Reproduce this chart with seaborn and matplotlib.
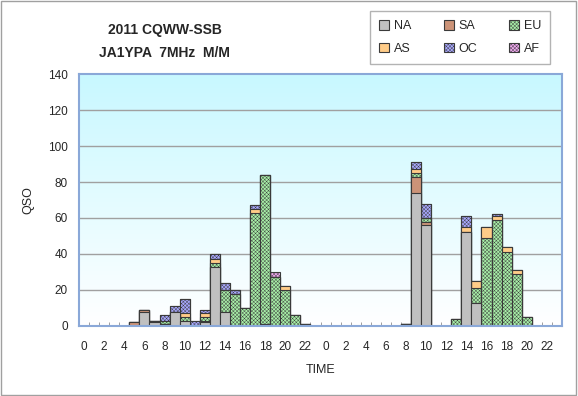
import numpy as np
import pandas as pd
import matplotlib
matplotlib.use('Agg')
import matplotlib.pyplot as plt
import seaborn as sns
from matplotlib.patches import Patch, Rectangle
from matplotlib.colors import LinearSegmentedColormap

# QSO counts per hour, two contest days (0-23, 0-23)
hours = list(range(24)) + list(range(24))
na = [0, 0, 0, 0, 0, 0, 8, 2, 1, 8, 3, 0, 2, 33, 8, 0, 0, 0, 0, 0, 0, 0, 0, 0,
      0, 0, 0, 0, 0, 0, 0, 0, 1, 74, 56, 0, 0, 0, 52, 13, 0, 0, 0, 0, 0, 0, 0, 0]
sa = [0, 0, 0, 0, 0, 2, 1, 1, 0, 0, 0, 0, 1, 0, 0, 0, 0, 0, 1, 0, 0, 0, 0, 0,
      0, 0, 0, 0, 0, 0, 0, 0, 0, 9, 2, 0, 0, 0, 0, 0, 0, 0, 0, 0, 0, 0, 0, 0]
eu = [0, 0, 0, 0, 0, 0, 0, 0, 2, 0, 2, 0, 2, 2, 12, 18, 10, 63, 83, 27, 20, 6, 1, 0,
      0, 0, 0, 0, 0, 0, 0, 0, 0, 2, 2, 0, 0, 4, 0, 8, 49, 59, 41, 29, 5, 0, 0, 0]
as_ = [0, 0, 0, 0, 0, 0, 0, 0, 0, 0, 2, 0, 2, 2, 0, 0, 0, 2, 0, 0, 2, 0, 0, 0,
       0, 0, 0, 0, 0, 0, 0, 0, 0, 2, 0, 0, 0, 0, 3, 4, 6, 2, 3, 2, 0, 0, 0, 0]
oc = [0, 0, 0, 0, 0, 0, 0, 0, 3, 3, 8, 3, 2, 3, 4, 2, 0, 2, 0, 0, 0, 0, 0, 0,
      0, 0, 0, 0, 0, 0, 0, 0, 0, 4, 8, 0, 0, 0, 6, 0, 0, 1, 0, 0, 0, 0, 0, 0]
af = [0, 0, 0, 0, 0, 0, 0, 0, 0, 0, 0, 0, 0, 0, 0, 0, 0, 0, 0, 3, 0, 0, 0, 0,
      0, 0, 0, 0, 0, 0, 0, 0, 0, 0, 0, 0, 0, 0, 0, 0, 0, 0, 0, 0, 0, 0, 0, 0]

names = ['NA', 'SA', 'EU', 'AS', 'OC', 'AF']
colors = ['#c0c0c0', '#cc9378', '#a8f0a8', '#ffcc88', '#a8a8ff', '#f0a8f0']
hatches = ['', '', 'xxxxxxxxx', '', 'xxxxxxxxx', 'xxxxxxxxx']

df = pd.DataFrame({'slot': range(48), 'NA': na, 'SA': sa, 'EU': eu,
                   'AS': as_, 'OC': oc, 'AF': af})
cum = df[names].cumsum(axis=1)

sns.set_style('white')
plt.rcParams['font.family'] = ['Liberation Sans', 'DejaVu Sans']
plt.rcParams['hatch.linewidth'] = 0.3

fig = plt.figure(figsize=(5.78, 3.96), dpi=100)
ax = fig.add_axes([0.1367, 0.1768, 0.8356, 0.6363])

# gradient background (light cyan at top to white at bottom)
cmap = LinearSegmentedColormap.from_list('bg', ['#ffffff', '#c8f8ff'])
ax.imshow(np.linspace(0, 1, 256).reshape(-1, 1), cmap=cmap, aspect='auto',
          extent=[-0.5, 47.5, 0, 140], origin='lower', zorder=0)

for y in range(20, 140, 20):
    ax.axhline(y, color='#a0a0a0', lw=1, zorder=1)

# stacked bars: draw cumulative totals from top layer down
for i in range(len(names) - 1, -1, -1):
    d = pd.DataFrame({'slot': df['slot'], 'val': cum[names[i]]})
    sns.barplot(data=d, x='slot', y='val', color=colors[i], width=1.0,
                edgecolor='#3a3a3a', linewidth=0.8, hatch=hatches[i],
                saturation=1, ax=ax, zorder=2)

ax.set_xlim(-0.5, 47.5)
ax.set_ylim(0, 140)
ax.set_yticks(range(0, 141, 20))
ax.set_xticks(range(0, 48, 2))
ax.set_xticklabels([str(h) for h in hours[::2]])
ax.set_xticks(np.arange(-0.5, 48, 1), minor=True)
ax.tick_params(axis='x', which='major', length=0, labelsize=8.5, pad=11)
ax.tick_params(axis='x', which='minor', direction='in', length=3,
               color='#909090', bottom=True)
ax.tick_params(axis='y', length=0, labelsize=8.5, pad=8)
for s in ax.spines.values():
    s.set_color('#8aa8d8')
    s.set_linewidth(1.5)
ax.set_xlabel('TIME', fontsize=9, labelpad=8)
ax.set_ylabel('QSO', fontsize=9, labelpad=10)

fig.text(0.285, 0.925, '2011 CQWW-SSB', ha='center', va='center',
         fontsize=10, fontweight='bold')
fig.text(0.285, 0.865, 'JA1YPA  7MHz  M/M', ha='center', va='center',
         fontsize=10, fontweight='bold')

# legend rows: NA SA EU / AS OC AF (legend fills column-wise)
order = [0, 3, 1, 4, 2, 5]
handles = [Patch(facecolor=colors[i], edgecolor='#3a3a3a', hatch=hatches[i],
                 linewidth=0.8, label=names[i]) for i in order]
leg = fig.legend(handles=handles, ncol=3, loc='upper left',
                 bbox_to_anchor=(0.64, 0.973), frameon=True, fancybox=False,
                 fontsize=9, handlelength=0.8, handleheight=0.8,
                 handletextpad=0.35, columnspacing=2.6, labelspacing=0.85,
                 borderpad=0.75, borderaxespad=0)
leg.get_frame().set_edgecolor('#a0a0a0')
leg.get_frame().set_linewidth(1)

fig.patches.append(Rectangle((0.002, 0.003), 0.995, 0.994, transform=fig.transFigure,
                             fill=False, edgecolor='#a0a0a0', linewidth=1))

fig.savefig('out.png', dpi=100)
